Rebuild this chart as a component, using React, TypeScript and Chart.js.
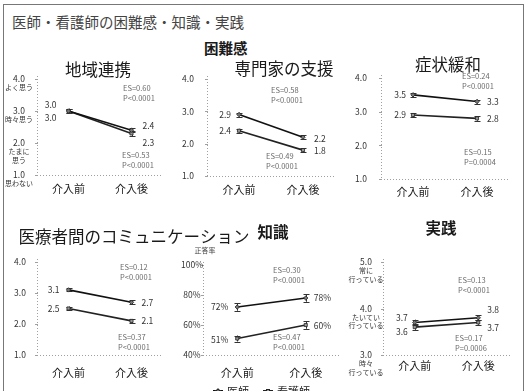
import React, { useEffect, useRef } from 'react';
import { Chart, registerables } from 'chart.js';

Chart.register(...registerables);

const W = 528;
const H = 391;
const FONT = '"Noto Sans CJK JP", "Noto Sans", sans-serif';

const categories = ['介入前', '介入後'];
const seriesNames = ['医師', '看護師'];

// 困難感 (1〜4)
const chiikiDoctor = [3.0, 2.4];
const chiikiNurse = [3.0, 2.3];
const senmonDoctor = [2.9, 2.2];
const senmonNurse = [2.4, 1.8];
const shojoDoctor = [3.5, 3.3];
const shojoNurse = [2.9, 2.8];
const commDoctor = [3.1, 2.7];
const commNurse = [2.5, 2.1];
// 知識 (正答率 %)
const knowDoctor = [72, 78];
const knowNurse = [51, 60];
// 実践 (3〜5)
const practiceDoctor = [3.7, 3.8];
const practiceNurse = [3.6, 3.7];

// 誤差範囲 (±)
const chiikiErr = [[0.07, 0.07], [0.07, 0.08]];
const senmonErr = [[0.06, 0.06], [0.06, 0.06]];
const shojoErr = [[0.06, 0.06], [0.06, 0.07]];
const commErr = [[0.05, 0.06], [0.06, 0.06]];
const knowErr = [[2.5, 2.5], [2, 2.5]];
const practiceErr = [[0.06, 0.05], [0.06, 0.05]];

// 効果量・P値
const chiikiStats = [['ES=0.60', 'P<0.0001'], ['ES=0.53', 'P<0.0001']];
const senmonStats = [['ES=0.58', 'P<0.0001'], ['ES=0.49', 'P<0.0001']];
const shojoStats = [['ES=0.24', 'P<0.0001'], ['ES=0.15', 'P=0.0004']];
const commStats = [['ES=0.12', 'P<0.0001'], ['ES=0.37', 'P<0.0001']];
const knowStats = [['ES=0.30', 'P<0.0001'], ['ES=0.47', 'P<0.0001']];
const practiceStats = [['ES=0.13', 'P<0.0001'], ['ES=0.17', 'P=0.0006']];

// 目盛
const difficultyTicks = [4, 3, 2, 1];
const difficultyTickLabels = [['4.0', 'よく思う'], ['3.0', '時々思う'], ['2.0', 'たまに', '思う'], ['1.0', '思わない']];
const plainTickLabels = [['4.0'], ['3.0'], ['2.0'], ['1.0']];
const knowTicks = [100, 80, 60, 40];
const knowTickLabels = [['100%'], ['80%'], ['60%'], ['40%']];
const practiceTicks = [5, 4, 3];
const practiceTickLabels = [['5.0', '常に', '行っている'], ['4.0', 'たいてい', '行っている'], ['3.0', '時々', '行っている']];

type Area = { l: number; t: number; r: number; b: number };
type PanelCfg = {
  key: string;
  title: string;
  titleX: number;
  titleY: number;
  titleBold?: boolean;
  area: Area;
  min: number;
  max: number;
  ticks: number[];
  tickLabels: string[][];
  tickX: number;
  percent?: boolean;
  series: number[][];
  errors: number[][];
  labelDx: number[];
  labelDy: number[][];
  xLabelGap: number;
  stats: string[][];
  statPos: { x: number; y: number }[];
  extra?: { x: number; y: number; text: string }[];
};

const panels: PanelCfg[] = [
  {
    key: 'chiiki', title: '地域連携', titleX: 98, titleY: 70,
    area: { l: 37, t: 79, r: 163, b: 175 }, min: 1, max: 4,
    ticks: difficultyTicks, tickLabels: difficultyTickLabels, tickX: 19,
    series: [chiikiDoctor, chiikiNurse], errors: chiikiErr,
    labelDx: [-12, 11], labelDy: [[-6, -4], [7, 9]], xLabelGap: 14,
    stats: chiikiStats, statPos: [{ x: 123, y: 88 }, { x: 122, y: 155 }],
  },
  {
    key: 'senmon', title: '専門家の支援', titleX: 284, titleY: 69,
    area: { l: 207, t: 79, r: 335, b: 176 }, min: 1, max: 4,
    ticks: difficultyTicks, tickLabels: plainTickLabels, tickX: 188,
    series: [senmonDoctor, senmonNurse], errors: senmonErr,
    labelDx: [-8, 11], labelDy: [[0, 2], [0, 1]], xLabelGap: 14,
    stats: senmonStats, statPos: [{ x: 271, y: 90 }, { x: 266, y: 156 }],
  },
  {
    key: 'shojo', title: '症状緩和', titleX: 448, titleY: 65,
    area: { l: 381, t: 78, r: 509, b: 179 }, min: 1, max: 4,
    ticks: difficultyTicks, tickLabels: plainTickLabels, tickX: 361,
    series: [shojoDoctor, shojoNurse], errors: shojoErr,
    labelDx: [-7, 10], labelDy: [[0, 0], [0, 0]], xLabelGap: 13,
    stats: shojoStats, statPos: [{ x: 462, y: 76 }, { x: 464, y: 152 }],
  },
  {
    key: 'comm', title: '医療者間のコミュニケーション', titleX: 134, titleY: 237,
    area: { l: 37, t: 262, r: 163, b: 355 }, min: 1, max: 4,
    ticks: difficultyTicks, tickLabels: plainTickLabels, tickX: 20,
    series: [commDoctor, commNurse], errors: commErr,
    labelDx: [-9, 10], labelDy: [[0, 0], [0, 0]], xLabelGap: 18,
    stats: commStats, statPos: [{ x: 120, y: 267 }, { x: 118, y: 337 }],
  },
  {
    key: 'know', title: '知識', titleX: 273, titleY: 232, titleBold: true,
    area: { l: 203, t: 265, r: 340, b: 355 }, min: 40, max: 100,
    ticks: knowTicks, tickLabels: knowTickLabels, tickX: 192, percent: true,
    series: [knowDoctor, knowNurse], errors: knowErr,
    labelDx: [-9, 8], labelDy: [[0, 0], [1, 1]], xLabelGap: 18,
    stats: knowStats, statPos: [{ x: 273, y: 270 }, { x: 273, y: 337 }],
    extra: [{ x: 205, y: 250, text: '正答率' }],
  },
  {
    key: 'practice', title: '実践', titleX: 441, titleY: 228, titleBold: true,
    area: { l: 383, t: 262, r: 510, b: 355 }, min: 3, max: 5,
    ticks: practiceTicks, tickLabels: practiceTickLabels, tickX: 366,
    series: [practiceDoctor, practiceNurse], errors: practiceErr,
    labelDx: [-7, 9], labelDy: [[-5, -8], [5, 5]], xLabelGap: 11,
    stats: practiceStats, statPos: [{ x: 458, y: 280 }, { x: 455, y: 338 }],
  },
];

const seriesStyle = [
  { color: '#111', point: 'rectRot' as const, fill: '#777' },
  { color: '#222', point: 'rect' as const, fill: '#999' },
];

function decorPlugin(p: PanelCfg) {
  return {
    id: 'decor_' + p.key,
    beforeDatasetsDraw(chart: any) {
      const { ctx, chartArea: a, scales } = chart;
      const ys = scales.y;
      ctx.save();
      // 点線の軸
      ctx.strokeStyle = '#a0a0a0';
      ctx.lineWidth = 1;
      ctx.setLineDash([1, 2]);
      ctx.beginPath();
      ctx.moveTo(a.left + 0.5, a.top - 3);
      ctx.lineTo(a.left + 0.5, a.bottom);
      ctx.moveTo(a.left, a.bottom + 0.5);
      ctx.lineTo(a.right, a.bottom + 0.5);
      ctx.stroke();
      ctx.setLineDash([]);
      ctx.beginPath();
      p.ticks.forEach((t) => {
        const y = Math.round(ys.getPixelForValue(t)) + 0.5;
        ctx.moveTo(a.left - 2, y);
        ctx.lineTo(a.left + 1, y);
      });
      ctx.stroke();
      // 誤差範囲
      ctx.strokeStyle = '#333';
      ctx.lineWidth = 1;
      chart.data.datasets.forEach((ds: any, i: number) => {
        const meta = chart.getDatasetMeta(i);
        meta.data.forEach((pt: any, j: number) => {
          const v = ds.data[j];
          const e = p.errors[i][j];
          const y1 = ys.getPixelForValue(v + e);
          const y2 = ys.getPixelForValue(v - e);
          const x = Math.round(pt.x) + 0.5;
          ctx.beginPath();
          ctx.moveTo(x, y1);
          ctx.lineTo(x, y2);
          ctx.moveTo(x - 3, Math.round(y1) + 0.5);
          ctx.lineTo(x + 3, Math.round(y1) + 0.5);
          ctx.moveTo(x - 3, Math.round(y2) + 0.5);
          ctx.lineTo(x + 3, Math.round(y2) + 0.5);
          ctx.stroke();
        });
      });
      ctx.restore();
    },
    afterDatasetsDraw(chart: any) {
      const { ctx, chartArea: a, scales } = chart;
      const ys = scales.y;
      const xs = scales.x;
      ctx.save();
      ctx.textBaseline = 'middle';

      // パネル見出し
      ctx.fillStyle = '#1a1a1a';
      ctx.textAlign = 'center';
      ctx.font = (p.titleBold ? 'bold 15.5px ' : '16.5px ') + FONT;
      ctx.fillText(p.title, p.titleX, p.titleY);

      // 縦軸の目盛ラベル
      ctx.fillStyle = '#333';
      p.ticks.forEach((t, k) => {
        const y = ys.getPixelForValue(t);
        p.tickLabels[k].forEach((line, n) => {
          ctx.font = (n === 0 ? '8.5px ' : '7px ') + FONT;
          ctx.fillText(line, p.tickX, y + n * 8.5);
        });
      });

      // 横軸ラベル
      ctx.fillStyle = '#1a1a1a';
      ctx.font = '11px ' + FONT;
      categories.forEach((c, j) => {
        ctx.fillText(c, xs.getPixelForValue(j), a.bottom + p.xLabelGap);
      });

      // 値ラベル
      ctx.fillStyle = '#333';
      ctx.font = '8.5px ' + FONT;
      p.series.forEach((vals, i) => {
        vals.forEach((v, j) => {
          const x = xs.getPixelForValue(j) + p.labelDx[j];
          const y = ys.getPixelForValue(v) + p.labelDy[i][j];
          ctx.textAlign = j === 0 ? 'right' : 'left';
          ctx.fillText(p.percent ? `${v}%` : v.toFixed(1), x, y);
        });
      });

      // 効果量・P値
      ctx.fillStyle = '#6a6a6a';
      ctx.font = '7.5px ' + FONT;
      ctx.textAlign = 'left';
      p.stats.forEach((lines, i) => {
        const pos = p.statPos[i];
        lines.forEach((line, n) => ctx.fillText(line, pos.x, pos.y + n * 10));
      });

      if (p.extra) {
        ctx.fillStyle = '#444';
        ctx.font = '7px ' + FONT;
        ctx.textAlign = 'center';
        p.extra.forEach((e) => ctx.fillText(e.text, e.x, e.y));
      }
      ctx.restore();
    },
  };
}

function PanelChart({ cfg }: { cfg: PanelCfg }) {
  const ref = useRef<HTMLCanvasElement | null>(null);
  useEffect(() => {
    if (!ref.current) return;
    const a = cfg.area;
    const chart = new Chart(ref.current, {
      type: 'line',
      data: {
        labels: categories,
        datasets: cfg.series.map((vals, i) => ({
          label: seriesNames[i],
          data: vals,
          borderColor: seriesStyle[i].color,
          borderWidth: 1.6,
          pointStyle: seriesStyle[i].point,
          pointRadius: 2.2,
          pointBackgroundColor: seriesStyle[i].fill,
          pointBorderColor: '#222',
          pointBorderWidth: 0.8,
          tension: 0,
          clip: false as any,
        })),
      },
      options: {
        animation: false,
        responsive: false,
        devicePixelRatio: 1,
        events: [],
        layout: { padding: { left: a.l, top: a.t, right: W - a.r, bottom: H - a.b } },
        scales: {
          x: { type: 'category', display: false, offset: true },
          y: { display: false, min: cfg.min, max: cfg.max },
        },
        plugins: { legend: { display: false }, title: { display: false }, tooltip: { enabled: false } },
      },
      plugins: [decorPlugin(cfg)],
    });
    return () => chart.destroy();
  }, [cfg]);
  return (
    <canvas
      ref={ref}
      width={W}
      height={H}
      style={{ position: 'absolute', left: 0, top: 0, width: W, height: H }}
    />
  );
}

export default function App() {
  return (
    <div
      style={{
        position: 'fixed', left: 0, top: 0, width: W, height: H,
        overflow: 'hidden', background: '#fff', fontFamily: FONT,
      }}
    >
      <div
        style={{
          position: 'absolute', left: 3, top: 4, width: 521, height: 420,
          border: '1px solid #777', boxSizing: 'border-box',
        }}
      />
      <div
        style={{
          position: 'absolute', left: 12, top: 13, fontSize: 14.5, lineHeight: '18px',
          color: '#444', whiteSpace: 'nowrap',
        }}
      >
        医師・看護師の困難感・知識・実践
      </div>
      <div
        style={{
          position: 'absolute', left: 204, top: 39, fontSize: 14.5, lineHeight: '18px',
          fontWeight: 'bold', color: '#1a1a1a', whiteSpace: 'nowrap',
        }}
      >
        困難感
      </div>
      {panels.map((p) => (
        <PanelChart key={p.key} cfg={p} />
      ))}
      <div
        style={{
          position: 'absolute', left: 213, top: 384, display: 'flex', gap: 14,
          fontSize: 11, lineHeight: '14px', color: '#222', whiteSpace: 'nowrap',
        }}
      >
        {seriesNames.map((n, i) => (
          <div key={n} style={{ display: 'flex', alignItems: 'center', gap: 4 }}>
            <span style={{ position: 'relative', width: 10, height: 8, display: 'inline-block' }}>
              <span style={{ position: 'absolute', left: 0, top: 3, width: 10, height: 1.5, background: seriesStyle[i].color }} />
              <span
                style={{
                  position: 'absolute', left: 3, top: 1.5, width: 4, height: 4,
                  background: seriesStyle[i].fill, border: '0.8px solid #222', boxSizing: 'border-box',
                  transform: i === 0 ? 'rotate(45deg)' : 'none',
                }}
              />
            </span>
            <span>{n}</span>
          </div>
        ))}
      </div>
    </div>
  );
}
